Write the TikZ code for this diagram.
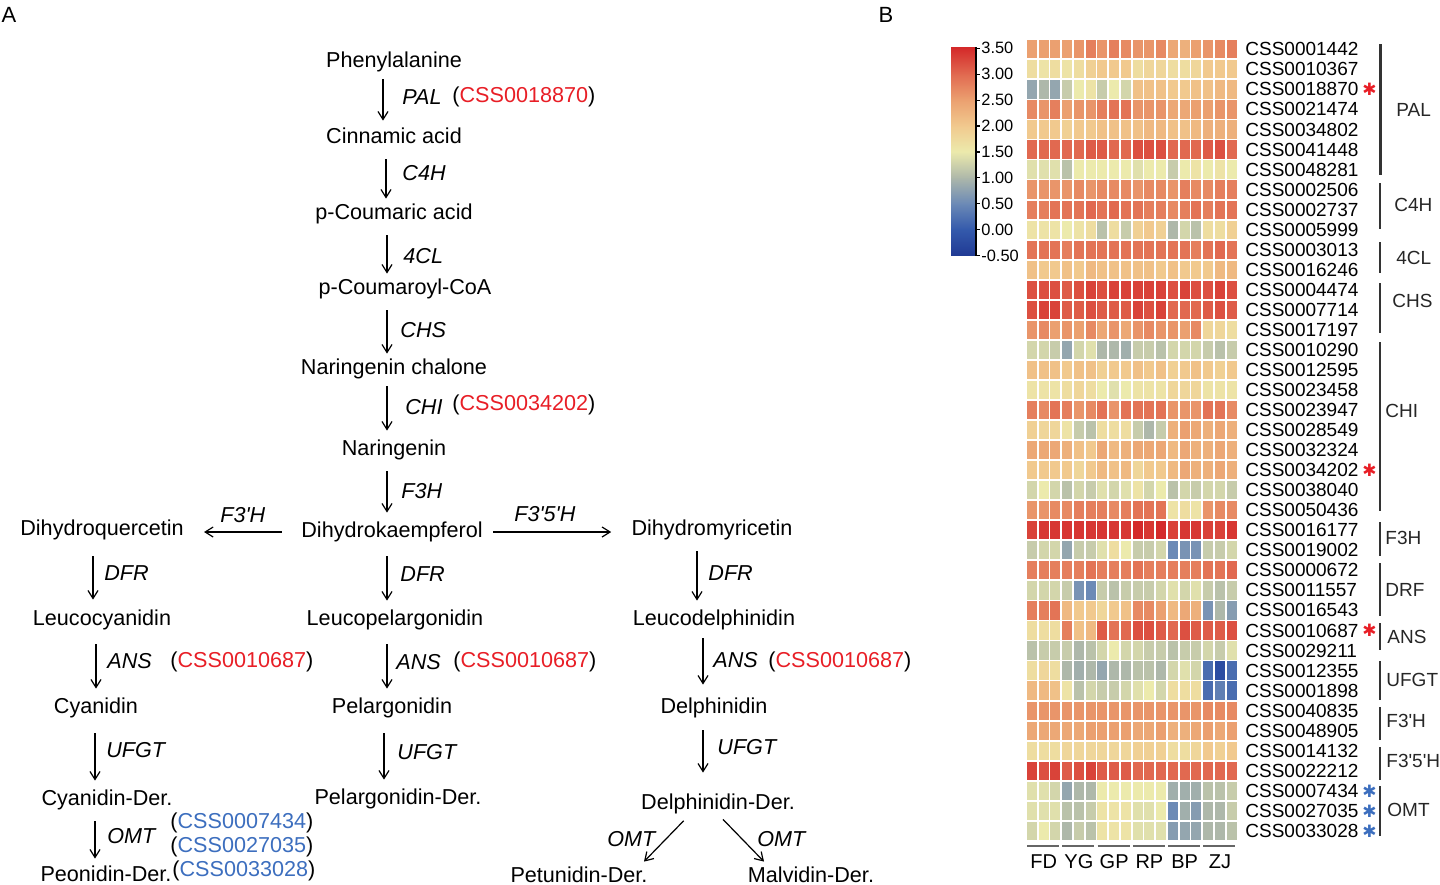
\documentclass[tikz,border=0pt]{standalone}
\usepackage{fontspec}
\setmainfont{Liberation Sans}
\newfontfamily\symfont{DejaVu Sans}
\usetikzlibrary{arrows.meta}

\definecolor{cssred}{RGB}{232,30,38}
\definecolor{cssblue}{RGB}{60,110,190}
\definecolor{hm0}{RGB}{32,58,148}
\definecolor{hm1}{RGB}{52,90,172}
\definecolor{hm2}{RGB}{108,138,182}
\definecolor{hm3}{RGB}{174,184,170}
\definecolor{hm4}{RGB}{236,234,172}
\definecolor{hm5}{RGB}{241,201,142}
\definecolor{hm6}{RGB}{235,160,112}
\definecolor{hm7}{RGB}{225,105,80}
\definecolor{hm8}{RGB}{212,42,42}

\newcommand\hmset[1]{%
  \pgfmathsetmacro\hmt{min(max((#1+0.5)*2,0),7.999)}%
  \pgfmathtruncatemacro\hmk{\hmt}%
  \pgfmathtruncatemacro\hmkk{\hmk+1}%
  \pgfmathsetmacro\hmf{(\hmt-\hmk)*100}%
  \colorlet{hmc}{hm\hmkk!\hmf!hm\hmk}}

\begin{document}
\begin{tikzpicture}[x=0.5pt, y=-0.5pt,
    cpd/.style={font=\fontsize{10.8}{13}\selectfont, text height=0.75em, text depth=0.25em, inner sep=2.5pt, yshift=-1pt},
    enz/.style={font=\fontsize{10.8}{13}\selectfont\itshape, anchor=west, inner sep=0pt, text height=0.72em, text depth=0pt},
    acc/.style={font=\fontsize{10.8}{13}\selectfont, anchor=west, inner sep=0pt, text height=0.72em, text depth=0pt},
    arrow/.style={-{Straight Barb[length=4pt,width=5pt]}, line width=0.6pt, shorten <=3pt, shorten >=2pt},
    panel/.style={font=\fontsize{11}{13}\selectfont},
    gene/.style={font=\fontsize{9.5}{11}\selectfont, anchor=west, inner sep=0pt},
    star/.style={font=\fontsize{8.5}{9}\symfont, anchor=west, inner sep=0pt, xshift=1.5pt},
    fam/.style={font=\fontsize{9.5}{11}\selectfont, text=black!85, anchor=west, inner sep=0pt},
    bracket/.style={draw=black!80},
    grp/.style={font=\fontsize{10}{12}\selectfont, inner sep=0pt},
    grpline/.style={draw=black!60, line width=0.6pt},
    cbl/.style={font=\fontsize{8.2}{10}\selectfont, anchor=west, inner sep=0pt}
]
\useasboundingbox (0,0) rectangle (1440,884);

\node[panel] (pa) at (9,15) {A};
\node[panel] (pb) at (886,15) {B};

\node[cpd] (phe) at (394,60) {Phenylalanine};
\node[cpd] (cin) at (394,136) {Cinnamic acid};
\node[cpd] (pcou) at (394,212) {p-Coumaric acid};
\node[cpd] (coa) at (405,287) {p-Coumaroyl-CoA};
\node[cpd] (chal) at (394,367) {Naringenin chalone};
\node[cpd] (nar) at (394,448) {Naringenin};
\node[cpd] (dhk) at (392,530) {Dihydrokaempferol};
\node[cpd] (dhq) at (102,528) {Dihydroquercetin};
\node[cpd] (dhm) at (712,528) {Dihydromyricetin};
\node[cpd] (lcy) at (102,618) {Leucocyanidin};
\node[cpd] (lpel) at (395,618) {Leucopelargonidin};
\node[cpd] (ldel) at (714,618) {Leucodelphinidin};
\node[cpd] (cy) at (96,706) {Cyanidin};
\node[cpd] (pel) at (392,706) {Pelargonidin};
\node[cpd] (del) at (714,706) {Delphinidin};
\node[cpd] (cyder) at (107,798) {Cyanidin-Der.};
\node[cpd] (pelder) at (398,797) {Pelargonidin-Der.};
\node[cpd] (delder) at (718,802) {Delphinidin-Der.};
\node[cpd] (peon) at (106,874) {Peonidin-Der.};
\node[cpd] (petun) at (579,875) {Petunidin-Der.};
\node[cpd] (malv) at (811,875) {Malvidin-Der.};

\node[enz] (pal) at (402,97) {PAL};
\node[acc] (palid) at (452,95) {(\textcolor{cssred}{CSS0018870})};
\node[enz] (c4h) at (402,173) {C4H};
\node[enz] (fcl) at (403,256) {4CL};
\node[enz] (chs) at (400,330) {CHS};
\node[enz] (chi) at (405,407) {CHI};
\node[acc] (chiid) at (452,403) {(\textcolor{cssred}{CSS0034202})};
\node[enz] (f3h) at (401,491) {F3H};
\node[enz] (f3ph) at (220,515) {F3\textquotesingle H};
\node[enz] (f35h) at (514,514) {F3\textquotesingle 5\textquotesingle H};
\node[enz] (dfra) at (104,573) {DFR};
\node[enz] (dfrb) at (400,574) {DFR};
\node[enz] (dfrc) at (708,573) {DFR};
\node[enz] (ansa) at (107,661) {ANS};
\node[acc] (ansida) at (170,660) {(\textcolor{cssred}{CSS0010687})};
\node[enz] (ansb) at (396,662) {ANS};
\node[acc] (ansidb) at (453,660) {(\textcolor{cssred}{CSS0010687})};
\node[enz] (ansc) at (713,660) {ANS};
\node[acc] (ansidc) at (768,660) {(\textcolor{cssred}{CSS0010687})};
\node[enz] (ufgta) at (106,750) {UFGT};
\node[enz] (ufgtb) at (397,752) {UFGT};
\node[enz] (ufgtc) at (717,747) {UFGT};
\node[enz] (omta) at (107,836) {OMT};
\node[acc] (omtida) at (170,821) {(\textcolor{cssblue}{CSS0007434})};
\node[acc] (omtidb) at (170,845) {(\textcolor{cssblue}{CSS0027035})};
\node[acc] (omtidc) at (172,869) {(\textcolor{cssblue}{CSS0033028})};
\node[enz] (omtb) at (607,839) {OMT};
\node[enz] (omtc) at (757,839) {OMT};

\draw[arrow, shorten <=1pt, shorten >=1pt] (phe.south -| 383,0) -- (cin.north -| 383,0);
\draw[arrow, shorten >=0pt] (cin.south -| 386,0) -- (pcou.north -| 386,0);
\draw[arrow, shorten >=0pt] (pcou.south -| 387,0) -- (coa.north -| 387,0);
\draw[arrow, shorten >=0pt] (coa.south -| 387,0) -- (chal.north -| 387,0);
\draw[arrow, shorten <=1pt] (chal.south -| 387,0) -- (nar.north -| 387,0);
\draw[arrow] (nar.south -| 387,0) -- (dhk.north -| 387,0);
\draw[arrow, shorten <=4.5pt] (dhk.south -| 387,0) -- (lpel.north -| 387,0);
\draw[arrow, shorten <=4.5pt] (lpel.south -| 387,0) -- (pel.north -| 387,0);
\draw[arrow, shorten <=5pt] (pel.south -| 384,0) -- (pelder.north -| 384,0);
\draw[arrow, shorten <=5.5pt, shorten >=2.5pt] (dhq.south -| 93,0) -- (lcy.north -| 93,0);
\draw[arrow, shorten <=4.5pt] (lcy.south -| 96,0) -- (cy.north -| 96,0);
\draw[arrow, shorten <=5pt] (cy.south -| 95,0) -- (cyder.north -| 95,0);
\draw[arrow, shorten >=1pt] (cyder.south -| 95,0) -- (peon.north -| 95,0);
\draw[arrow] (dhm.south -| 697,0) -- (ldel.north -| 697,0);
\draw[arrow, shorten <=1.5pt, shorten >=4pt] (ldel.south -| 703,0) -- (del.north -| 703,0);
\draw[arrow, shorten <=3.5pt, shorten >=8pt] (del.south -| 703,0) -- (delder.north -| 703,0);
\draw[arrow, shorten <=1pt, shorten >=0pt] (delder.south -| 685,0) -- (petun.north -| 644,0);
\draw[arrow, shorten <=0pt, shorten >=0pt] (delder.south -| 723,0) -- (malv.north -| 764,0);
\draw[arrow, shorten <=7pt, shorten >=7.5pt] (dhk.west) -- (dhq.east |- dhk.west);
\draw[arrow, shorten <=2.5pt, shorten >=7.5pt] (dhk.east) -- (dhm.west |- dhk.east);

\foreach \vals [count=\r] in {
  {2.5,2.5,2.5,2.5,2.6,2.8,2.6,2.8,2.7,2.6,2.6,2.7,2.4,2.3,2.5,2.6,2.7,2.8},
  {1.7,1.6,1.7,1.6,1.7,1.9,2.0,2.0,2.0,1.7,1.8,1.8,1.7,1.7,1.8,2.0,2.0,2.0},
  {0.8,1.0,0.8,1.2,1.5,1.6,1.2,1.5,1.3,2.1,2.1,2.1,2.0,2.0,2.1,2.1,2.2,2.2},
  {2.7,2.6,2.8,2.5,2.6,2.6,2.8,2.9,2.9,2.6,2.6,2.6,2.4,2.4,2.5,2.5,2.6,2.6},
  {2.0,2.0,2.0,1.9,2.0,2.0,2.1,2.1,2.1,2.1,2.2,2.2,2.1,2.1,2.2,2.3,2.3,2.3},
  {3.0,3.0,3.0,3.0,3.0,3.1,3.1,3.0,3.0,3.2,3.2,3.2,3.0,3.0,3.0,3.1,3.2,3.0},
  {1.4,1.4,1.4,1.1,1.5,1.5,1.5,1.5,1.5,1.4,1.5,1.5,1.2,1.5,1.6,1.5,1.6,1.5},
  {2.6,2.6,2.6,2.6,2.7,2.6,2.7,2.7,2.7,2.6,2.7,2.7,2.6,2.8,2.7,2.7,2.8,2.8},
  {2.8,2.8,2.9,2.9,2.9,3.0,2.9,3.0,2.9,2.9,2.8,2.8,2.7,2.8,2.9,2.8,2.9,2.9},
  {1.6,1.6,1.6,1.5,1.6,1.7,1.1,1.7,1.2,1.9,2.0,1.9,1.0,1.3,1.1,1.7,1.7,1.9},
  {2.9,2.9,2.9,2.8,2.9,2.9,2.9,2.9,2.9,2.9,2.9,2.9,2.9,2.9,2.8,2.9,3.0,2.9},
  {2.1,2.0,2.0,2.1,2.0,2.2,2.1,2.1,2.1,2.1,2.1,2.0,2.1,2.0,2.0,2.0,2.2,2.2},
  {3.2,3.2,3.2,3.1,3.2,3.3,3.2,3.3,3.3,3.3,3.3,3.3,3.2,3.3,3.2,3.2,3.3,3.2},
  {3.2,3.3,3.3,3.1,3.1,3.2,3.1,3.1,3.1,3.3,3.2,3.3,3.0,3.0,3.0,3.1,3.2,3.1},
  {2.6,2.7,2.5,2.6,2.5,2.7,2.4,2.6,2.4,2.6,2.7,2.6,2.6,2.5,2.7,1.8,1.8,1.7},
  {1.3,1.3,1.2,0.8,1.3,1.4,1.0,1.0,0.9,1.2,1.2,1.1,1.3,1.3,1.3,1.2,1.1,1.2},
  {2.1,2.1,2.1,2.0,2.1,2.1,1.9,2.0,2.0,2.1,2.0,2.1,1.9,2.0,2.1,2.0,1.9,2.0},
  {1.6,1.6,1.6,1.7,1.8,1.7,1.5,1.4,1.5,1.6,1.6,1.6,1.8,1.8,1.8,1.6,1.6,1.6},
  {2.8,2.7,2.9,2.8,2.6,2.7,2.9,2.6,2.9,2.9,2.9,2.9,2.6,2.6,2.6,2.9,2.9,2.7},
  {1.9,1.8,1.8,1.6,1.2,1.1,1.7,1.7,1.7,1.2,1.0,1.2,2.3,2.5,2.4,2.3,2.4,2.3},
  {2.4,2.4,2.4,2.3,2.1,2.0,2.4,2.2,2.3,2.4,2.4,2.4,2.2,2.4,2.3,2.3,2.4,2.3},
  {2.0,2.0,2.0,2.0,1.8,2.0,2.2,2.1,2.2,1.8,2.0,2.0,2.2,2.4,2.3,2.3,2.4,2.3},
  {1.3,1.5,1.3,1.1,1.3,1.2,1.4,1.3,1.4,1.6,1.3,1.5,1.1,1.3,1.2,1.3,1.3,1.2},
  {2.6,2.6,2.7,2.7,2.8,2.8,2.8,2.7,2.8,2.9,2.9,2.9,1.6,1.7,1.6,2.6,2.7,2.7},
  {3.3,3.4,3.4,3.4,3.4,3.4,3.4,3.4,3.4,3.5,3.4,3.5,3.3,3.4,3.4,3.3,3.3,3.4},
  {1.2,1.3,1.3,0.8,1.2,1.2,1.4,1.7,1.5,1.2,1.2,1.3,0.5,0.6,0.6,1.2,1.2,1.3},
  {2.8,2.8,2.8,2.8,2.8,2.9,2.8,2.8,2.8,2.9,2.8,2.8,2.8,2.8,2.8,2.9,2.9,3.0},
  {1.3,1.3,1.3,1.2,0.6,0.5,1.2,1.1,1.2,1.2,1.2,1.3,1.4,1.3,1.4,1.2,1.1,1.2},
  {2.8,2.8,2.9,2.2,2.0,2.0,1.8,2.0,2.1,2.7,2.7,2.5,2.2,2.4,2.3,0.6,1.0,0.7},
  {1.7,1.7,1.7,2.8,2.1,2.2,3.1,2.9,3.0,3.2,3.2,3.1,3.0,3.2,3.1,3.1,3.1,3.2},
  {1.1,1.2,1.2,1.2,1.0,1.1,1.3,1.5,1.3,1.3,1.2,1.2,1.1,1.2,1.2,1.3,1.2,1.4},
  {1.7,1.8,1.7,1.0,0.9,1.0,0.8,1.0,1.0,1.1,1.1,1.0,1.3,1.4,1.3,0.2,-0.2,0.2},
  {2.2,2.2,2.1,1.6,1.1,1.3,1.2,1.2,1.3,1.4,1.5,1.3,1.7,1.7,1.7,0.2,0.4,0.2},
  {2.6,2.6,2.6,2.6,2.6,2.6,2.6,2.6,2.6,2.6,2.6,2.6,2.6,2.6,2.6,2.7,2.7,2.7},
  {2.4,2.4,2.4,2.4,2.4,2.5,2.5,2.5,2.5,2.4,2.4,2.5,2.3,2.3,2.4,2.5,2.4,2.5},
  {1.7,1.7,1.7,1.8,1.8,1.8,1.8,1.8,1.8,1.9,1.9,1.9,1.7,1.7,1.8,2.0,1.9,2.0},
  {3.3,3.2,3.3,3.1,3.2,3.3,3.1,3.1,3.1,3.0,3.0,3.0,3.0,3.0,3.0,3.0,3.0,3.0},
  {1.4,1.4,1.3,0.8,1.0,1.0,1.5,1.5,1.5,1.5,1.5,1.5,0.9,0.9,0.9,1.1,1.1,1.2},
  {1.4,1.4,1.4,1.1,1.1,1.2,1.6,1.6,1.6,1.4,1.4,1.5,0.5,0.9,0.7,1.0,1.0,1.2},
  {1.3,1.5,1.3,1.0,1.2,1.1,1.6,1.6,1.6,1.4,1.4,1.4,0.7,0.8,0.8,1.0,1.0,1.1}} {
  \foreach \v [count=\c] in \vals {
    \hmset{\v}
    \filldraw[fill=hmc, draw=white, line width=0.9pt] ({1026+(\c-1)*11.75},{39.3+(\r-1)*20.04}) rectangle ++(11.75,20.04);
  }
}

\foreach \g [count=\r] in {CSS0001442,CSS0010367,CSS0018870,CSS0021474,CSS0034802,CSS0041448,CSS0048281,
  CSS0002506,CSS0002737,CSS0005999,CSS0003013,CSS0016246,CSS0004474,CSS0007714,CSS0017197,
  CSS0010290,CSS0012595,CSS0023458,CSS0023947,CSS0028549,CSS0032324,CSS0034202,CSS0038040,CSS0050436,
  CSS0016177,CSS0019002,CSS0000672,CSS0011557,CSS0016543,CSS0010687,CSS0029211,CSS0012355,CSS0001898,
  CSS0040835,CSS0048905,CSS0014132,CSS0022212,CSS0007434,CSS0027035,CSS0033028}
  \node[gene] (g\r) at (1245,{39.3+(\r-0.5)*20.04}) {\g};

\node[star, text=cssred] (s3) at (g3.east) {✱};
\node[star, text=cssred] (s22) at (g22.east) {✱};
\node[star, text=cssred] (s30) at (g30.east) {✱};
\node[star, text=cssblue] (s38) at (g38.east) {✱};
\node[star, text=cssblue] (s39) at (g39.east) {✱};
\node[star, text=cssblue] (s40) at (g40.east) {✱};

\foreach \ya/\yb/\lx/\ly/\lab/\lw [count=\i] in {44/175/1396/110/PAL/1.5pt, 183/229/1394/205/C4H/1.3pt,
  242/273/1396/258/4CL/1.3pt, 283/333/1392/301/CHS/0.8pt, 342/511/1385/411/CHI/1.4pt,
  522/556/1385/538/F3H/0.9pt, 563/616/1385/590/DRF/0.9pt, 623/650/1387/637/ANS/0.9pt,
  661/700/1386/680/UFGT/1.1pt, 707/740/1386/721/F3\textquotesingle H/0.9pt,
  747/780/1386/761/F3\textquotesingle 5\textquotesingle H/0.9pt, 786/836/1387/810/OMT/0.9pt} {
  \draw[bracket, line width=\lw] (1380,\ya) -- (1380,\yb);
  \node[fam] (fam\i) at (\lx,\ly) {\lab};
}

\foreach \k in {0,...,5}
  \draw[grpline] ({1027+\k*35.25},846) -- ({1027+\k*35.25+32},846);
\foreach \lab [count=\k] in {FD,YG,GP,RP,BP,ZJ}
  \node[grp] (grp\k) at ({1026+35.25*\k-17.6},862) {\lab};

\foreach \k [evaluate=\k as \kk using int(\k+1)] in {0,...,7}
  \shade[bottom color=hm\k, top color=hm\kk] (951,{255.5-\k*25.9}) rectangle (975,{255.5-(\k+1)*25.9-0.4});
\draw[line width=0.6pt] (976,47) -- (976,256);
\foreach \cbv [count=\i from 0] in {-0.50,0.00,0.50,1.00,1.50,2.00,2.50,3.00,3.50} {
  \draw[line width=0.6pt] (976,{255.5-\i*25.9}) -- ++(4,0);
  \node[cbl] (cb\i) at (981,{255.5-\i*25.9}) {\cbv};
}

\end{tikzpicture}
\end{document}
